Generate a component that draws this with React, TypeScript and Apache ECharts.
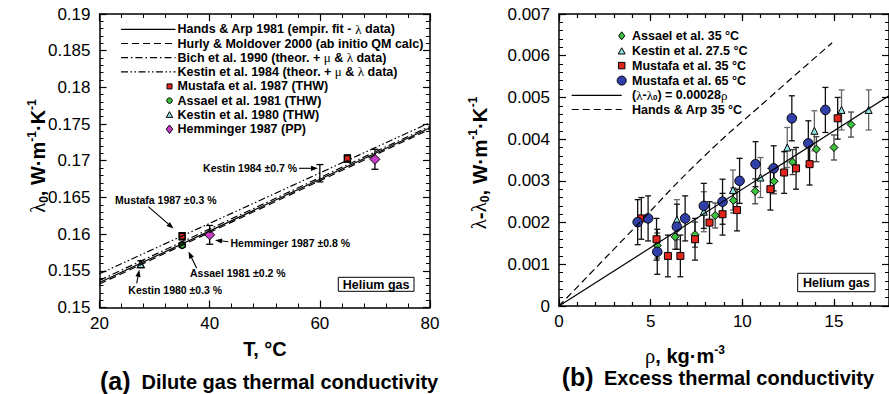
import React, { useEffect, useRef } from 'react';
import * as echarts from 'echarts';

// ---------- Panel (a): dilute gas thermal conductivity ----------
const tempEnds = [20, 80];
const handsArp1981 = [0.1534, 0.1745];
const hurlyMoldover2000 = [0.1532, 0.1743];
const bich1990 = [0.1537, 0.1747];
const kestin1984 = [0.1546, 0.1752];

const mustafa1987T = [35, 65];
const mustafa1987L = [0.1597, 0.1703];
const mustafa1987Err = [0.0005, 0.0005];
const assael1981T = [35];
const assael1981L = [0.1585];
const assael1981Err = [0.0003];
const kestin1980T = [27.5];
const kestin1980L = [0.1559];
const kestin1980Err = [0.00047];
const hemminger1987T = [40, 70];
const hemminger1987L = [0.1599, 0.1702];
const hemminger1987Err = [0.00128, 0.00136];
const kestin1984BarT = [60];
const kestin1984BarL = [0.1683];
const kestin1984BarErr = [0.00118];

// ---------- Panel (b): excess thermal conductivity ----------
const assaelRho = [5.36, 6.33, 7.42, 8.52, 9.51, 10.7, 11.73, 12.74, 14.04, 15.0, 15.93];
const assaelExcess = [0.00145, 0.00166, 0.00171, 0.00217, 0.00253, 0.00275, 0.00299, 0.00345, 0.00376, 0.0038, 0.00435];
const assaelErr = 0.0003;
const kestinRho = [6.43, 7.9, 9.49, 10.99, 12.45, 13.93, 15.41, 16.89];
const kestinExcess = [0.00207, 0.00226, 0.00278, 0.00308, 0.0038, 0.0042, 0.0047, 0.0047];
const kestinErr = 0.00048;
const mustafa35Rho = [4.49, 5.32, 5.94, 6.62, 7.42, 8.21, 8.92, 9.71, 11.53, 12.28, 12.93, 13.67, 15.2];
const mustafa35Excess = [0.0021, 0.0016, 0.0012, 0.0012, 0.0016, 0.002, 0.0022, 0.0023, 0.0028, 0.0032, 0.0033, 0.0034, 0.0045];
const mustafa35Err = 0.0005;
const mustafa65Rho = [4.29, 4.86, 5.36, 6.43, 6.88, 7.9, 8.92, 9.85, 10.72, 11.71, 12.7, 13.6, 14.53];
const mustafa65Excess = [0.00201, 0.0021, 0.0013, 0.0019, 0.0021, 0.0024, 0.0025, 0.003, 0.0034, 0.0033, 0.0045, 0.0039, 0.0047];
const mustafa65Err = 0.00054;
const fitRho = [0, 18];
const fitExcess = [0, 0.00504];
const handsArp35Rho = [0, 4, 7.8, 11.5, 14.9];
const handsArp35Excess = [0, 0.00182, 0.00354, 0.005, 0.00631];

// ---------- styling ----------
const SANS = '"Liberation Sans", Arial, Helvetica, sans-serif';
const SERIF = '"Liberation Serif", "DejaVu Serif", serif';
const RED = '#e0261d';
const GREEN = '#3cc23c';
const CYAN = '#8fe3e0';
const BLUE = '#3040a8';
const MAGENTA = '#c83cc8';

const DASH = [7, 4];
const DASHDOT = [7, 3, 1.5, 3];
const DASHDOTDOT = [7, 2.5, 1.5, 2.5, 1.5, 2.5];

const zip = (xs: number[], ys: number[]) => xs.map((x, i) => [x, ys[i]]);
const zipErr = (xs: number[], ys: number[], es: number[] | number) =>
  xs.map((x, i) => [x, ys[i], Array.isArray(es) ? es[i] : es]);

function valueAxis(o: any) {
  return {
    type: 'value',
    gridIndex: o.grid,
    position: o.position,
    min: o.min,
    max: o.max,
    interval: o.interval,
    axisLine: { show: o.line !== false, onZero: false, lineStyle: { color: '#000', width: 1.5 } },
    axisTick: { show: true, inside: true, length: o.tickLen ?? 7, lineStyle: { color: '#000', width: 1.2 } },
    minorTick: { show: o.minor !== false, splitNumber: 5, length: 4, lineStyle: { color: '#000', width: 1 } },
    splitLine: { show: false },
    minorSplitLine: { show: false },
    axisLabel: {
      show: !!o.labels,
      color: '#000',
      fontSize: 17,
      fontFamily: SANS,
      margin: o.margin ?? 9,
      showMaxLabel: o.showMax !== false,
    },
  };
}

function lineSeries(xi: number, yi: number, data: number[][], dash: any, smooth = false) {
  return {
    type: 'line',
    xAxisIndex: xi,
    yAxisIndex: yi,
    data,
    smooth,
    symbol: 'none',
    silent: true,
    lineStyle: { color: '#000', width: 1.2, type: dash },
  };
}

function errSeries(xi: number, yi: number, data: number[][], color: string, cap: number) {
  return {
    type: 'custom',
    xAxisIndex: xi,
    yAxisIndex: yi,
    data,
    silent: true,
    encode: { x: 0, y: 1 },
    renderItem: (_p: any, api: any) => {
      const x = api.value(0);
      const y = api.value(1);
      const e = api.value(2);
      const a = api.coord([x, y + e]);
      const b = api.coord([x, y - e]);
      const st = { stroke: color, lineWidth: 1.3 };
      return {
        type: 'group',
        children: [
          { type: 'line', shape: { x1: a[0], y1: a[1], x2: b[0], y2: b[1] }, style: st },
          { type: 'line', shape: { x1: a[0] - cap, y1: a[1], x2: a[0] + cap, y2: a[1] }, style: st },
          { type: 'line', shape: { x1: b[0] - cap, y1: b[1], x2: b[0] + cap, y2: b[1] }, style: st },
        ],
      };
    },
  };
}

function scatterSeries(xi: number, yi: number, data: number[][], symbol: string, size: number, color: string, bw = 1) {
  return {
    type: 'scatter',
    xAxisIndex: xi,
    yAxisIndex: yi,
    data,
    symbol,
    symbolSize: size,
    silent: true,
    itemStyle: { color, borderColor: '#000', borderWidth: bw, opacity: 1 },
  };
}

// ---------- graphic helpers (legends, annotations, titles) ----------
const tok = (size: number, weight: string, family: string, extra: any = {}) => ({
  fontSize: size,
  fontWeight: weight,
  fontFamily: family,
  ...extra,
});

function txt(x: number, y: number, text: string, size: number, opts: any = {}) {
  const rich = {
    g: tok(size + 0.5, 'normal', SERIF),
    sub: tok(Math.round(size * 0.6), 'bold', SANS, { verticalAlign: 'bottom' }),
    sup: tok(Math.round(size * 0.6), 'bold', SANS, { verticalAlign: 'top' }),
    ...(opts.rich || {}),
  };
  return {
    type: 'text',
    x,
    y,
    rotation: opts.rotation || 0,
    z: 100,
    silent: true,
    style: {
      text,
      fill: '#000',
      fontSize: size,
      fontWeight: opts.weight || 'bold',
      fontFamily: opts.family || SANS,
      align: opts.align || 'left',
      verticalAlign: 'middle',
      textAlign: opts.align || 'left',
      textVerticalAlign: 'middle',
      lineHeight: opts.lineHeight,
      rich,
    },
  };
}

function gLine(x1: number, y1: number, x2: number, y2: number, dash?: number[], w = 1.2) {
  return {
    type: 'line',
    z: 100,
    silent: true,
    shape: { x1, y1, x2, y2 },
    style: { stroke: '#000', lineWidth: w, lineDash: dash || null },
  };
}

function arrow(x1: number, y1: number, x2: number, y2: number) {
  const dx = x2 - x1;
  const dy = y2 - y1;
  const len = Math.sqrt(dx * dx + dy * dy);
  const ux = dx / len;
  const uy = dy / len;
  const hl = 7;
  const hw = 2.6;
  const bx = x2 - ux * hl;
  const by = y2 - uy * hl;
  return [
    gLine(x1, y1, bx, by, undefined, 1.1),
    {
      type: 'polygon',
      z: 100,
      silent: true,
      shape: { points: [[x2, y2], [bx - uy * hw, by + ux * hw], [bx + uy * hw, by - ux * hw]] },
      style: { fill: '#000' },
    },
  ];
}

function marker(kind: string, cx: number, cy: number, s: number, fill: string) {
  const style = { fill, stroke: '#000', lineWidth: 1 };
  if (kind === 'rect') return { type: 'rect', z: 100, shape: { x: cx - s / 2, y: cy - s / 2, width: s, height: s }, style };
  if (kind === 'circle') return { type: 'circle', z: 100, shape: { cx, cy, r: s / 2 }, style };
  if (kind === 'triangle')
    return { type: 'polygon', z: 100, shape: { points: [[cx, cy - s / 2], [cx + s / 2, cy + s / 2.6], [cx - s / 2, cy + s / 2.6]] }, style };
  return { type: 'polygon', z: 100, shape: { points: [[cx, cy - s / 2], [cx + s / 2.6, cy], [cx, cy + s / 2], [cx - s / 2.6, cy]] }, style };
}

function boxLabel(x: number, y: number, w: number, h: number, text: string) {
  return [
    { type: 'rect', z: 99, shape: { x, y, width: w, height: h }, style: { fill: '#fff', stroke: '#000', lineWidth: 1 } },
    txt(x + w / 2, y + h / 2 + 0.5, text, 12.5, { align: 'center' }),
  ];
}

function buildGraphics() {
  const g: any[] = [];
  // Panel (a) legend
  const ly = [29.3, 43.5, 57.7, 71.9, 86.4, 100.6, 114.9, 129.2];
  const lx1 = 121;
  const lx2 = 175.5;
  const tx = 177.5;
  g.push(gLine(lx1, ly[0], lx2, ly[0]));
  g.push(gLine(lx1, ly[1], lx2, ly[1], DASH));
  g.push(gLine(lx1, ly[2], lx2, ly[2], DASHDOT));
  g.push(gLine(lx1, ly[3], lx2, ly[3], DASHDOTDOT));
  g.push(marker('rect', 169.5, ly[4], 5, RED));
  g.push(marker('circle', 169.5, ly[5], 5.5, GREEN));
  g.push(marker('triangle', 169.5, ly[6], 6.5, CYAN));
  g.push(marker('diamond', 169.5, ly[7], 8.5, MAGENTA));
  const lt = [
    'Hands & Arp 1981 (empir. fit - {g|λ} data)',
    'Hurly & Moldover 2000 (ab initio QM calc)',
    'Bich et al. 1990 (theor. + {g|μ} & {g|λ} data)',
    'Kestin et al. 1984 (theor. + {g|μ} & {g|λ} data)',
    'Mustafa et al. 1987 (THW)',
    'Assael et al. 1981 (THW)',
    'Kestin et al. 1980 (THW)',
    'Hemminger 1987 (PP)',
  ];
  lt.forEach((t, i) => g.push(txt(tx, ly[i], t, 12.5)));

  // Panel (a) annotations
  g.push(txt(297, 168.3, 'Kestin 1984 ±0.7 %', 10.5, { align: 'right' }));
  g.push(...arrow(299, 168.3, 318, 168.3));
  g.push(txt(115, 199.5, 'Mustafa 1987 ±0.3 %', 10.5));
  g.push(...arrow(148.3, 206.7, 173.5, 228.5));
  g.push(txt(230.5, 243, 'Hemminger 1987 ±0.8 %', 10.5));
  g.push(...arrow(228.3, 241.7, 215, 240.2));
  g.push(txt(190, 273.3, 'Assael 1981 ±0.2 %', 10.5));
  g.push(...arrow(196.7, 268.3, 188.5, 251.5));
  g.push(txt(128.3, 290.3, 'Kestin 1980 ±0.3 %', 10.5));
  g.push(...arrow(136.7, 283.3, 139.3, 269.8));
  g.push(...boxLabel(338.3, 277.3, 75.7, 14, 'Helium gas'));

  // Panel (b) legend
  const ry = [35.8, 51.3, 65.6, 80.6, 95.3, 109.5];
  const rmx = 621.7;
  const rtx = 632;
  g.push(marker('diamond', rmx, ry[0], 8, GREEN));
  g.push(marker('triangle', rmx, ry[1], 7, CYAN));
  g.push(marker('rect', rmx, ry[2], 6.5, RED));
  g.push(marker('circle', rmx, ry[3], 9, BLUE));
  g.push(gLine(571.7, ry[4], 621.7, ry[4]));
  g.push(gLine(571.7, ry[5], 621.7, ry[5], DASH));
  const rt = [
    'Assael et al. 35 °C',
    'Kestin et al. 27.5 °C',
    'Mustafa et al. 35 °C',
    'Mustafa et al. 65 °C',
    '({g|λ}-{g|λ}{sub|0}) = 0.00028{g|ρ}',
    'Hands & Arp 35 °C',
  ];
  rt.forEach((t, i) => g.push(txt(rtx, ry[i], t, 12.5)));
  g.push(...boxLabel(797.7, 273.3, 77.3, 18.4, 'Helium gas'));

  // Axis titles
  g.push(txt(265, 349, 'T, °C', 20, { align: 'center' }));
  g.push(txt(685, 355.5, '{g|ρ}, kg·m{sup|-3}', 20, { align: 'center', lineHeight: 24 }));
  g.push(
    txt(38, 156, '{g|λ}{sub|0}, W·m{sup|-1}·K{sup|-1}', 20, {
      align: 'center',
      rotation: Math.PI / 2,
      lineHeight: 24,
    })
  );
  g.push(
    txt(479, 163, '{g|λ}-{g|λ}{sub|0}, W·m{sup|-1}·K{sup|-1}', 20.5, {
      align: 'center',
      rotation: Math.PI / 2,
      lineHeight: 24,
    })
  );

  // Panel captions
  g.push(txt(100, 380.5, '(a)', 25, { lineHeight: 24 }));
  g.push(txt(141.5, 381.5, 'Dilute gas thermal conductivity', 20, { lineHeight: 20 }));
  g.push(txt(561.7, 377, '(b)', 25, { lineHeight: 24 }));
  g.push(txt(604, 378, 'Excess thermal conductivity', 20, { lineHeight: 20 }));
  return g;
}

export default function App() {
  const ref = useRef<HTMLDivElement>(null);
  useEffect(() => {
    if (!ref.current) return;
    const chart = echarts.init(ref.current, undefined, { renderer: 'svg' });
    const option: any = {
      animation: false,
      backgroundColor: '#fff',
      grid: [
        { left: 99.5, top: 14, width: 330.5, height: 293.5 },
        { left: 559, top: 14, width: 330, height: 292 },
      ],
      xAxis: [
        valueAxis({ grid: 0, position: 'bottom', min: 20, max: 80, interval: 20, labels: true, margin: 7 }),
        valueAxis({ grid: 0, position: 'top', min: 20, max: 80, interval: 20 }),
        valueAxis({ grid: 1, position: 'bottom', min: 0, max: 18, interval: 5, minor: false, labels: true, margin: 7, showMax: false }),
        valueAxis({ grid: 1, position: 'top', min: 0, max: 18, interval: 5, minor: false }),
        valueAxis({ grid: 1, position: 'bottom', min: 0, max: 18, interval: 1, minor: false, line: false, tickLen: 4 }),
        valueAxis({ grid: 1, position: 'top', min: 0, max: 18, interval: 1, minor: false, line: false, tickLen: 4 }),
      ],
      yAxis: [
        valueAxis({ grid: 0, position: 'left', min: 0.15, max: 0.19, interval: 0.005, labels: true }),
        valueAxis({ grid: 0, position: 'right', min: 0.15, max: 0.19, interval: 0.005 }),
        valueAxis({ grid: 1, position: 'left', min: 0, max: 0.007, interval: 0.001, labels: true }),
        valueAxis({ grid: 1, position: 'right', min: 0, max: 0.007, interval: 0.001 }),
      ],
      series: [
        // panel (a)
        lineSeries(0, 0, zip(tempEnds, handsArp1981), 'solid'),
        lineSeries(0, 0, zip(tempEnds, hurlyMoldover2000), DASH),
        lineSeries(0, 0, zip(tempEnds, bich1990), DASHDOT),
        lineSeries(0, 0, zip(tempEnds, kestin1984), DASHDOTDOT),
        errSeries(0, 0, zipErr(kestin1984BarT, kestin1984BarL, kestin1984BarErr), '#000', 3.5),
        errSeries(0, 0, zipErr(mustafa1987T, mustafa1987L, mustafa1987Err), '#000', 3.5),
        errSeries(0, 0, zipErr(assael1981T, assael1981L, assael1981Err), '#000', 3.5),
        errSeries(0, 0, zipErr(kestin1980T, kestin1980L, kestin1980Err), '#000', 3.5),
        errSeries(0, 0, zipErr(hemminger1987T, hemminger1987L, hemminger1987Err), '#000', 3.5),
        scatterSeries(0, 0, zip(mustafa1987T, mustafa1987L), 'rect', 6, RED, 1.5),
        scatterSeries(0, 0, zip(assael1981T, assael1981L), 'circle', 6.5, GREEN, 1.5),
        scatterSeries(0, 0, zip(kestin1980T, kestin1980L), 'triangle', 7, CYAN, 1.2),
        scatterSeries(0, 0, zip(hemminger1987T, hemminger1987L), 'diamond', 10, MAGENTA, 1),
        // panel (b)
        lineSeries(2, 2, zip(fitRho, fitExcess), 'solid'),
        lineSeries(2, 2, zip(handsArp35Rho, handsArp35Excess), DASH, true),
        errSeries(2, 2, zipErr(kestinRho, kestinExcess, kestinErr), '#666', 3),
        errSeries(2, 2, zipErr(assaelRho, assaelExcess, assaelErr), '#444', 3),
        errSeries(2, 2, zipErr(mustafa35Rho, mustafa35Excess, mustafa35Err), '#111', 3),
        errSeries(2, 2, zipErr(mustafa65Rho, mustafa65Excess, mustafa65Err), '#111', 3),
        scatterSeries(2, 2, zip(kestinRho, kestinExcess), 'triangle', 7, CYAN),
        scatterSeries(2, 2, zip(assaelRho, assaelExcess), 'diamond', 8, GREEN),
        scatterSeries(2, 2, zip(mustafa35Rho, mustafa35Excess), 'rect', 7, RED),
        scatterSeries(2, 2, zip(mustafa65Rho, mustafa65Excess), 'circle', 9.5, BLUE),
      ],
      graphic: buildGraphics(),
    };
    chart.setOption(option);
    return () => chart.dispose();
  }, []);
  return (
    <div
      ref={ref}
      style={{ position: 'absolute', left: 0, top: 0, width: 889, height: 394, background: '#fff' }}
    />
  );
}
